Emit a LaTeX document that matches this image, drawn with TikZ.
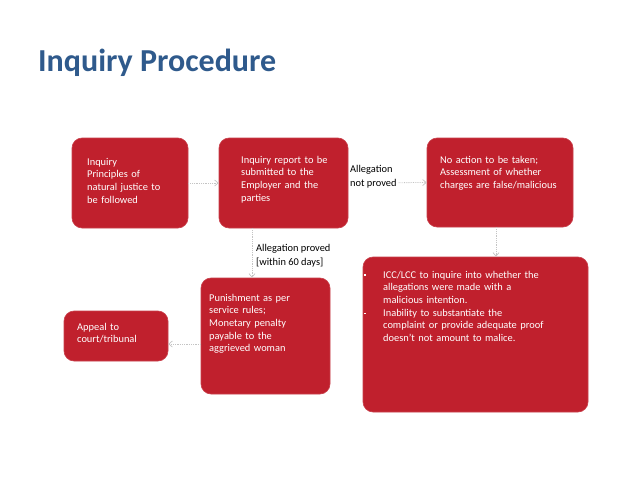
\documentclass[tikz,border=0pt]{standalone}
\usepackage{fontspec}
\setmainfont{Carlito}
\usetikzlibrary{arrows.meta}
\definecolor{boxred}{HTML}{C0202D}
\definecolor{titleblue}{HTML}{2F5A8C}
\definecolor{arrgray}{HTML}{C4C4C4}
\begin{document}
\begin{tikzpicture}[x=1pt,y=-1pt,
  redbox/.style={draw=boxred!85!white,line width=0.6pt,fill=boxred,rounded corners=10pt,inner sep=0pt},
  boxtxt/.style={text=white,inner sep=0pt,anchor=base west,text width=#1,font=\fontsize{10.4}{12.7}\selectfont},
  boxtxt/.default=150pt,
  lbl/.style={text=black,inner sep=0pt,anchor=base west,align=left,font=\fontsize{10.4}{13.5}\selectfont},
  flow/.style={draw=arrgray,densely dotted,line width=0.8pt,-{Straight Barb[length=3.5pt,width=6pt,line width=0.7pt]}}]
\useasboundingbox (0,0) rectangle (638,479);
\fill[white] (0,0) rectangle (638,479);
\node[anchor=base west,inner sep=0pt,text=titleblue,font=\fontsize{32}{36}\selectfont\bfseries] (title) at (38,71) {Inquiry Procedure};
% boxes
\node[redbox,minimum width=116pt,minimum height=90pt] (b1) at (130,183) {};
\node[redbox,minimum width=129pt,minimum height=90pt] (b2) at (283.5,183) {};
\node[redbox,minimum width=146pt,minimum height=89pt] (b3) at (500,182.5) {};
\node[redbox,minimum width=129pt,minimum height=116pt] (b4) at (265.5,336) {};
\node[redbox,minimum width=225pt,minimum height=155pt] (b5) at (475.5,334.5) {};
\node[redbox,minimum width=104pt,minimum height=50pt] (b6) at (116,336) {};
% texts
\node[boxtxt] (t1) at (87,165) {\raggedright Inquiry\\Principles of\\natural justice to\\be followed};
\node[boxtxt] (t2) at (241,163) {\raggedright Inquiry report to be\\submitted to the\\Employer and the\\parties};
\node[boxtxt] (t3) at (440,163) {\raggedright No action to be taken;\\Assessment of whether\\charges are false/malicious};
\node[boxtxt] (t4) at (209,301) {\raggedright Punishment as per\\service rules;\\Monetary penalty\\payable to the\\aggrieved woman};
\node[boxtxt=215pt] (t5) at (364,278) {\hangindent=19pt\hangafter=1\noindent\makebox[19pt][l]{\raisebox{2pt}{\rule{1.6pt}{1.6pt}}}ICC/LCC to inquire into whether the\newline allegations were made with a\newline malicious intention.\par
\hangindent=19pt\hangafter=1\noindent\makebox[19pt][l]{\raisebox{2pt}{\rule{1.6pt}{1.6pt}}}Inability to substantiate the\newline complaint or provide adequate proof\newline doesn't not amount to malice.\par};
\node[boxtxt] (t6) at (77,330) {\raggedright Appeal to\\court/tribunal};
% connectors
\draw[flow] (b1.east) -- (b2.west);
\draw[flow] (b2.east) -- (b3.west);
\node[lbl,fill=white,inner sep=1pt] (l1) at (349,186) {Allegation\\not proved};
\draw[flow] (b2.south -| 252,0) -- (b4.north -| 252,0);
\node[lbl] (l2) at (256,265) {Allegation proved\\{[within 60 days]}};
\draw[flow] (b3.south -| 496,0) -- (b5.north -| 496,0);
\coordinate (c4) at (b4.west |- 0,344);
\coordinate (c6) at (b6.east |- 0,344);
\draw[flow] (c4) -- (c6);
\end{tikzpicture}
\end{document}
